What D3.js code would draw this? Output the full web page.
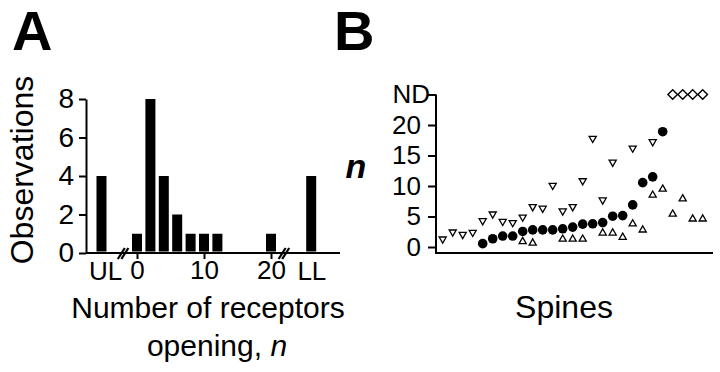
<!DOCTYPE html>
<html>
<head>
<meta charset="utf-8">
<script src="https://cdn.jsdelivr.net/npm/d3@7"></script>
<style>
  body { margin: 0; background: #fff; }
  svg text { font-family: "Liberation Sans", Arial, sans-serif; fill: #000; }
</style>
</head>
<body>
<div id="chart"></div>
<script>
// Panel A: histogram of receptors opening
var binN = [0, 2, 4, 6, 8, 10, 12, 14, 16, 18, 20];
var binCounts = [1, 8, 4, 2, 1, 1, 1, 0, 0, 0, 1];
var ulCount = 4;
var llCount = 4;
var obsTicks = [0, 2, 4, 6, 8];
var nTicks = [0, 10, 20];

// Panel B: n per spine (spine index, n)
var filledPts = [[4,0.55],[5,1.35],[6,1.8],[7,1.8],[8,2.55],[9,2.8],[10,2.8],[11,2.8],[12,2.98],[13,3.26],
  [14,3.75],[15,3.8],[16,4.0],[17,5.05],[18,5.15],[19,6.9],[20,10.55],[21,11.5],[22,18.9]];
var downPts = [[0,1.3],[1,2.45],[2,2.05],[3,2.4],[4,4.3],[5,5.4],[6,4.2],[7,4.0],[8,4.9],[9,6.6],[10,6.35],
  [11,10.1],[12,5.9],[13,6.6],[14,10.85],[15,17.8],[16,7.7],[17,13.9],[19,16.2],[21,17.25]];
var upPts = [[8,0.9],[9,0.65],[12,1.3],[13,1.3],[14,1.3],[16,2.3],[17,2.3],[18,1.6],[19,3.8],[20,2.8],
  [21,8.5],[22,9.5],[23,5.4],[24,7.9],[25,4.6],[26,4.6]];
var ndSpines = [23, 24, 25, 26];
var ND = 25;
var nTicksB = [0, 5, 10, 15, 20, 25];

var svg = d3.select("#chart").append("svg")
  .attr("width", 720)
  .attr("height", 372);

svg.append("rect").attr("width", 720).attr("height", 372).attr("fill", "#fff");

// ---------- Panel A ----------
var xA = d3.scaleLinear().domain([0, 20]).range([137, 271]);
var yA = d3.scaleLinear().domain([0, 8]).range([253, 99]);
var ulPos = -5.3, llPos = 26;
var barW = 10;

var gA = svg.append("g");

gA.selectAll("rect.bar")
  .data(binN.map((n, i) => ({n: n, c: binCounts[i]})).filter(d => d.c > 0))
  .enter()
  .append("rect")
  .attr("class", "bar")
  .attr("x", d => xA(d.n) - barW / 2)
  .attr("y", d => yA(d.c))
  .attr("width", barW)
  .attr("height", d => yA(0) - yA(d.c) - 1.5)
  .attr("fill", "#000");

gA.selectAll("rect.lim")
  .data([[ulPos, ulCount], [llPos, llCount]])
  .enter()
  .append("rect")
  .attr("class", "lim")
  .attr("x", d => xA(d[0]) - barW / 2)
  .attr("y", d => yA(d[1]))
  .attr("width", barW)
  .attr("height", d => yA(0) - yA(d[1]) - 1.5)
  .attr("fill", "#000");

// y axis
var yAxisA = gA.append("g")
  .attr("transform", "translate(86,0)")
  .call(d3.axisLeft(yA).tickValues(obsTicks).tickSize(7).tickSizeOuter(0).tickPadding(5));
yAxisA.selectAll("text").style("font-size", "28px");

// x axis
gA.append("line")
  .attr("x1", 86).attr("x2", 340)
  .attr("y1", yA(0)).attr("y2", yA(0))
  .attr("stroke", "#000").attr("stroke-width", 2);

var xAxisA = gA.append("g")
  .attr("transform", "translate(0," + yA(0) + ")")
  .call(d3.axisBottom(xA).tickValues(nTicks).tickSize(6).tickSizeOuter(0).tickPadding(2));
xAxisA.select(".domain").remove();
xAxisA.selectAll("text").style("font-size", "26px");

gA.selectAll("text.limlab")
  .data([["UL", ulPos + 0.6], ["LL", llPos + 0.1]])
  .enter()
  .append("text")
  .attr("class", "limlab")
  .attr("x", d => xA(d[1]))
  .attr("y", yA(0) + 27)
  .attr("text-anchor", "middle")
  .style("font-size", "26px")
  .text(d => d[0]);

// axis break marks
[-2, 22].forEach(function(b) {
  var bx = xA(b), by = yA(0);
  [-1.8, 1.8].forEach(function(o) {
    gA.append("line")
      .attr("x1", bx + o - 4).attr("y1", by + 6)
      .attr("x2", bx + o + 3).attr("y2", by - 5)
      .attr("stroke", "#000").attr("stroke-width", 2.2);
  });
});

gA.selectAll(".domain, .tick line").attr("stroke-width", 2);

gA.append("text")
  .attr("transform", "translate(33,170) rotate(-90)")
  .attr("text-anchor", "middle")
  .style("font-size", "32px")
  .text("Observations");

gA.append("text")
  .attr("x", 208).attr("y", 318)
  .attr("text-anchor", "middle")
  .style("font-size", "30px")
  .text("Number of receptors");

var l2 = gA.append("text")
  .attr("x", 217).attr("y", 356)
  .attr("text-anchor", "middle")
  .style("font-size", "30px");
l2.append("tspan").text("opening, ");
l2.append("tspan").style("font-style", "italic").text("n");

svg.append("text")
  .attr("x", 12).attr("y", 50)
  .style("font-size", "56px").style("font-weight", "bold")
  .text("A");

// ---------- Panel B ----------
var xB = d3.scaleLinear().domain([0, 26]).range([442.7, 702.7]);
var yB = d3.scaleLinear().domain([0, ND]).range([247, 94.5]);

var gB = svg.append("g");

var yAxisB = gB.append("g")
  .attr("transform", "translate(436,0)")
  .call(d3.axisLeft(yB).tickValues(nTicksB).tickSize(8).tickSizeOuter(0).tickPadding(7)
    .tickFormat(d => d === ND ? "ND" : d));
yAxisB.selectAll("text").style("font-size", "26px");
yAxisB.selectAll(".tick").filter(d => d === ND).select("text").attr("dx", 9);
yAxisB.select(".domain").attr("d", "M0," + yB(ND) + "V253");
yAxisB.selectAll(".domain, .tick line").attr("stroke-width", 2);

gB.append("line")
  .attr("x1", 435).attr("x2", 713)
  .attr("y1", 253).attr("y2", 253)
  .attr("stroke", "#000").attr("stroke-width", 2.2);

var triSym = d3.symbol().type(d3.symbolTriangle).size(22);

gB.selectAll("path.down")
  .data(downPts)
  .enter()
  .append("path")
  .attr("class", "down")
  .attr("d", triSym)
  .attr("transform", d => "translate(" + xB(d[0]) + "," + yB(d[1]) + ") rotate(180)")
  .attr("fill", "#fff").attr("stroke", "#000").attr("stroke-width", 1.3);

gB.selectAll("path.up")
  .data(upPts)
  .enter()
  .append("path")
  .attr("class", "up")
  .attr("d", triSym)
  .attr("transform", d => "translate(" + xB(d[0]) + "," + yB(d[1]) + ")")
  .attr("fill", "#fff").attr("stroke", "#000").attr("stroke-width", 1.3);

gB.selectAll("circle.filled")
  .data(filledPts)
  .enter()
  .append("circle")
  .attr("class", "filled")
  .attr("cx", d => xB(d[0]))
  .attr("cy", d => yB(d[1]))
  .attr("r", 4.8)
  .attr("fill", "#000");

gB.selectAll("path.nd")
  .data(ndSpines)
  .enter()
  .append("path")
  .attr("class", "nd")
  .attr("d", "M0,-4.8L4.8,0L0,4.8L-4.8,0Z")
  .attr("transform", d => "translate(" + xB(d) + "," + yB(ND) + ")")
  .attr("fill", "#fff").attr("stroke", "#000").attr("stroke-width", 1.4);

gB.append("text")
  .attr("x", 356).attr("y", 178)
  .attr("text-anchor", "middle")
  .style("font-size", "34px").style("font-weight", "bold").style("font-style", "italic")
  .text("n");

gB.append("text")
  .attr("x", 564).attr("y", 318)
  .attr("text-anchor", "middle")
  .style("font-size", "32px")
  .text("Spines");

svg.append("text")
  .attr("x", 334).attr("y", 50)
  .style("font-size", "56px").style("font-weight", "bold")
  .text("B");
</script>
</body>
</html>
